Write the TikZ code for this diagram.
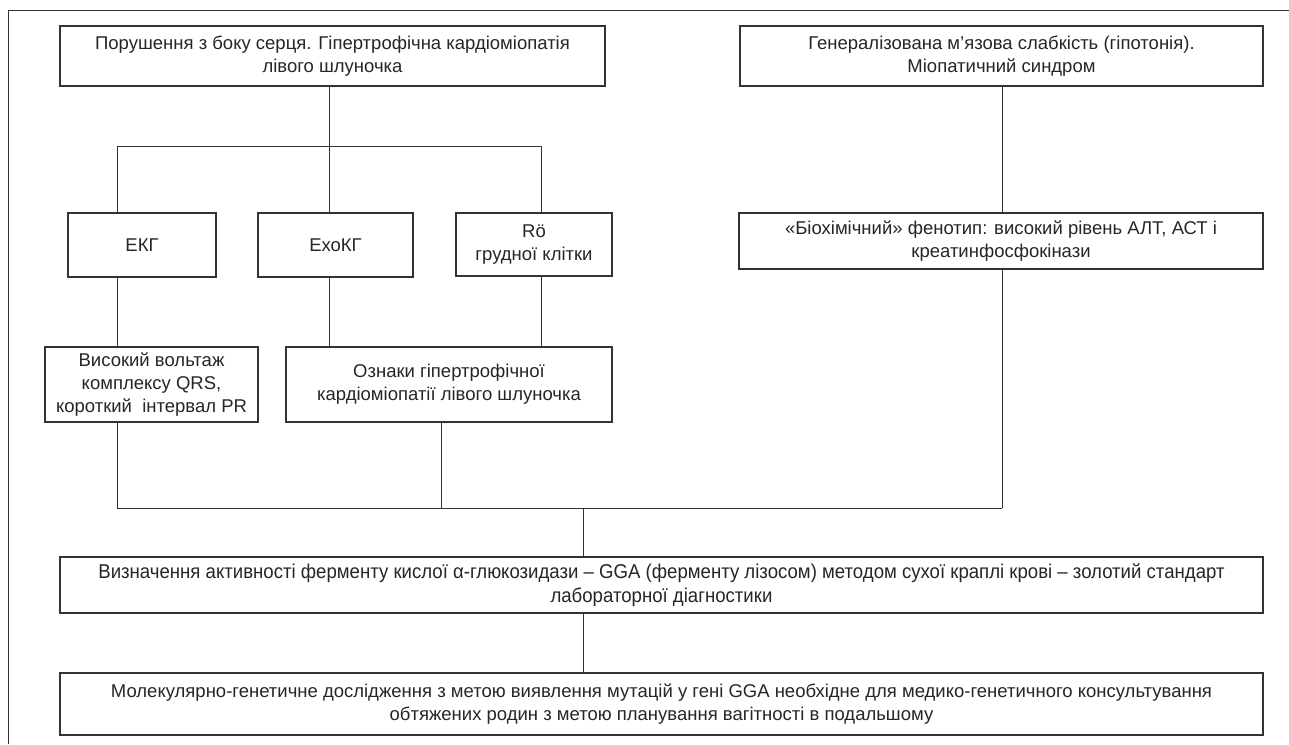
\documentclass[tikz,border=0pt]{standalone}
\usepackage{fontspec}
\setmainfont{Liberation Sans}
\newfontfamily\condfont[FakeStretch=0.93]{Liberation Sans}
\definecolor{ln}{HTML}{333333}
\begin{document}
\begin{tikzpicture}[x=1pt,y=-1pt,
  box/.style={draw=ln,line width=1.1pt,rectangle,inner sep=0pt,align=center,font=\fontsize{18.5}{23}\selectfont,text=black!85},
  con/.style={draw=ln,line width=0.9pt}]
\useasboundingbox (0,0) rectangle (1289,744);
\fill[white] (0,0) rectangle (1289,744);
% outer frame
\coordinate (fr1) at (8,744);
\coordinate (fr2) at (8,10);
\coordinate (fr3) at (1289,10);
\draw[con] (fr1) -- (fr2) -- (fr3);
% boxes
\node[box,minimum width=545pt,minimum height=60pt] (heart) at (332.5,56) {Порушення з боку серця. Гіпертрофічна кардіоміопатія\\лівого шлуночка};
\node[box,minimum width=523pt,minimum height=60pt] (muscle) at (1001.5,56) {Генералізована м’язова слабкість (гіпотонія).\\Міопатичний синдром};
\node[box,minimum width=148pt,minimum height=64pt] (ekg) at (142,245) {ЕКГ};
\node[box,minimum width=155pt,minimum height=64pt] (exo) at (335.5,245) {ЕхоКГ};
\node[box,minimum width=156pt,minimum height=63pt] (ro) at (534,244.5) {Rö\\грудної клітки};
\node[box,minimum width=524pt,minimum height=56pt] (bio) at (1001,241) {«Біохімічний» фенотип: високий рівень АЛТ, АСТ і\\креатинфосфокінази};
\node[box,minimum width=213pt,minimum height=75pt] (vys) at (151.5,384.5) {Високий вольтаж\\комплексу QRS,\\короткий\ \ інтервал PR};
\node[box,minimum width=326pt,minimum height=75pt] (ozn) at (449,384.5) {Ознаки гіпертрофічної\\кардіоміопатії лівого шлуночка};
\node[box,minimum width=1203pt,minimum height=56pt,font=\condfont\fontsize{20}{24}\selectfont] (gga) at (661.5,585) {Визначення активності ферменту кислої α-глюкозидази – GGA (ферменту лізосом) методом сухої краплі крові – золотий стандарт\\лабораторної діагностики};
\node[box,minimum width=1203pt,minimum height=62pt] (mol) at (661.5,704) {Молекулярно-генетичне дослідження з метою виявлення мутацій у гені GGA необхідне для медико-генетичного консультування\\обтяжених родин з метою планування вагітності в подальшому};
% bus coordinates
\coordinate (t0) at (329,146);
\coordinate (tl) at (117,146);
\coordinate (tr) at (541,146);
\coordinate (b0) at (583,508);
\coordinate (bl) at (117,508);
\coordinate (bm) at (441,508);
\coordinate (br) at (1002,508);
% top tree
\draw[con] (heart.south -| t0) -- (t0);
\draw[con] (tl) -- (tr);
\draw[con] (tl) -- (ekg.north -| tl);
\draw[con] (t0) -- (exo.north -| t0);
\draw[con] (tr) -- (ro.north -| tr);
\draw[con] (ekg.south -| tl) -- (vys.north -| tl);
\draw[con] (exo.south -| t0) -- (ozn.north -| t0);
\draw[con] (ro.south -| tr) -- (ozn.north -| tr);
% right column
\draw[con] (muscle.south -| br) -- (bio.north -| br);
\draw[con] (bio.south -| br) -- (br);
% bottom bus
\draw[con] (vys.south -| bl) -- (bl) -- (br);
\draw[con] (ozn.south -| bm) -- (bm);
\draw[con] (b0) -- (gga.north -| b0);
\draw[con] (gga.south -| b0) -- (mol.north -| b0);
\end{tikzpicture}
\end{document}
